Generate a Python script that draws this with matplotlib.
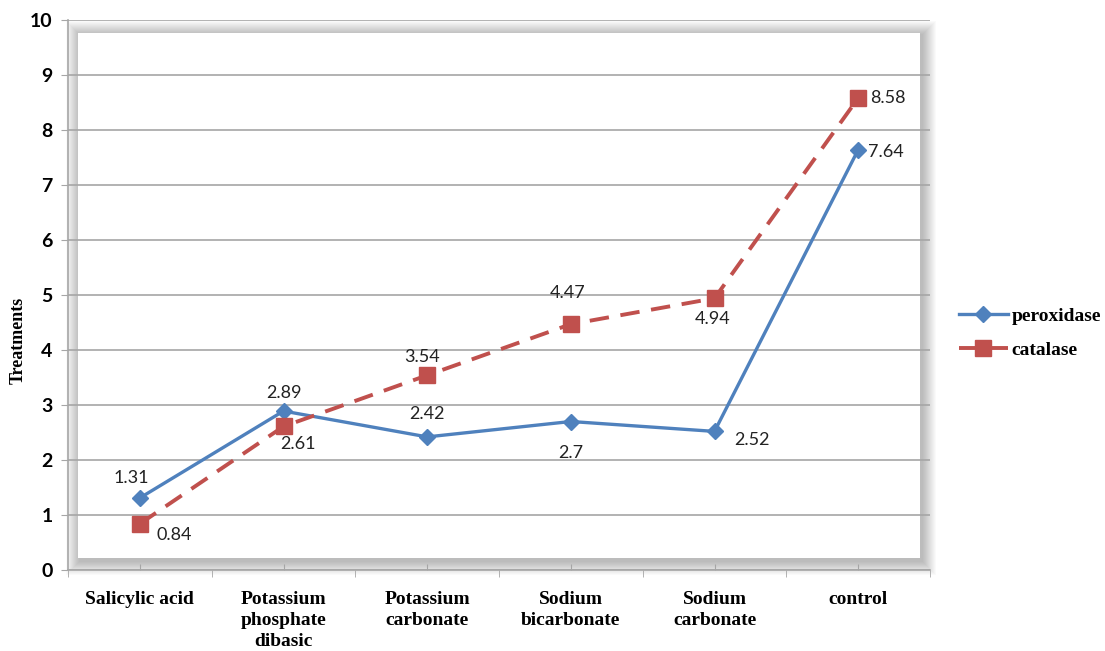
import numpy as np
import matplotlib.pyplot as plt
from matplotlib.patches import Rectangle

categories = ['Salicylic acid', 'Potassium\nphosphate\ndibasic', 'Potassium\ncarbonate',
              'Sodium\nbicarbonate', 'Sodium\ncarbonate', 'control']
peroxidase = [1.31, 2.89, 2.42, 2.7, 2.52, 7.64]
catalase = [0.84, 2.61, 3.54, 4.47, 4.94, 8.58]

# data label offsets in pixels (dx, dy) and horizontal alignment
perox_off = [(-9, 20, 'center'), (0, 18, 'center'), (0, 23, 'center'),
             (0, -31, 'center'), (20, -9, 'left'), (10, -2, 'left')]
catal_off = [(17, -11, 'left'), (14, -18, 'center'), (-5, 18, 'center'),
             (-3, 31, 'center'), (-2, -21, 'center'), (12, 0, 'left')]

blue = '#4F81BD'
red = '#C0504D'
sans = 'Lato'
serif = 'Liberation Serif'
W, H = 1105, 651

fig = plt.figure(figsize=(W / 100, H / 100), dpi=100)
ax = fig.add_axes([68 / W, 1 - 570 / H, 862 / W, 550 / H])


def px(x0, y0, x1, y1):
    # pixel box (top-left origin) to figure fraction rectangle
    return (x0 / W, 1 - y1 / H), (x1 - x0) / W, (y1 - y0) / H


# soft shadow around the white plot area
box = (78, 33, 920, 558)
for r in range(1, 15):
    xy, w, h = px(box[0] - r + 2, box[1] - r + 2, box[2] + r + 2, box[3] + r + 3)
    fig.patches.append(Rectangle(xy, w, h, transform=fig.transFigure, facecolor='black',
                                 alpha=0.02, edgecolor='none', zorder=-2))
xy, w, h = px(*box)
fig.patches.append(Rectangle(xy, w, h, transform=fig.transFigure, facecolor='white',
                             edgecolor='none', zorder=-1))
ax.patch.set_visible(False)

x = np.arange(len(categories))
ax.set_xlim(-0.5, len(categories) - 0.5)
ax.set_ylim(0, 10)
ax.set_yticks(range(0, 11))
ax.grid(axis='y', color='#A6A6A6', linewidth=1.2, zorder=1)
ax.set_axisbelow(True)

ax.plot(x, peroxidase, color=blue, linewidth=2.4, marker='D', markersize=8,
        label='peroxidase', zorder=3)
ax.plot(x, catalase, color=red, linewidth=2.8, linestyle=(0, (5, 3)), marker='s',
        markersize=11, label='catalase', zorder=3)

for vals, offs in [(peroxidase, perox_off), (catalase, catal_off)]:
    for xi, v, (dx, dy, ha) in zip(x, vals, offs):
        ax.annotate(f'{v:g}', (xi, v), xytext=(dx * 0.72, dy * 0.72),
                    textcoords='offset points', ha=ha, va='center',
                    fontsize=13, family=sans, color='#222222')

for s in ['top', 'right']:
    ax.spines[s].set_visible(False)
for s in ['left', 'bottom']:
    ax.spines[s].set_color('#A6A6A6')
    ax.spines[s].set_linewidth(1.2)

ax.set_xticks(x)
ax.set_xticklabels(categories, family=serif, fontweight='bold', fontsize=14,
                   linespacing=1.3, va='top')
ax.set_xticks(np.arange(-0.5, len(categories)), minor=True)
ax.tick_params(axis='x', which='major', direction='in', length=4, color='#A6A6A6', pad=15)
ax.tick_params(axis='x', which='minor', direction='out', length=5, color='#A6A6A6')
ax.tick_params(axis='y', length=5, color='#A6A6A6', pad=6)
for t in ax.get_yticklabels():
    t.set_family(sans)
    t.set_fontweight('bold')
    t.set_fontsize(14)

fig.text(18 / W, 1 - 340 / H, 'Treatments', rotation=90, ha='center', va='center',
         family=serif, fontweight='bold', fontsize=13)

leg = ax.legend(loc='center left', bbox_to_anchor=(955 / W, 1 - 333 / H),
                bbox_transform=fig.transFigure, frameon=False, handlelength=2.5,
                handletextpad=0.2, labelspacing=0.85, borderaxespad=0, borderpad=0.2,
                prop={'family': serif, 'weight': 'bold', 'size': 14})

fig.savefig('out.png', dpi=100)
